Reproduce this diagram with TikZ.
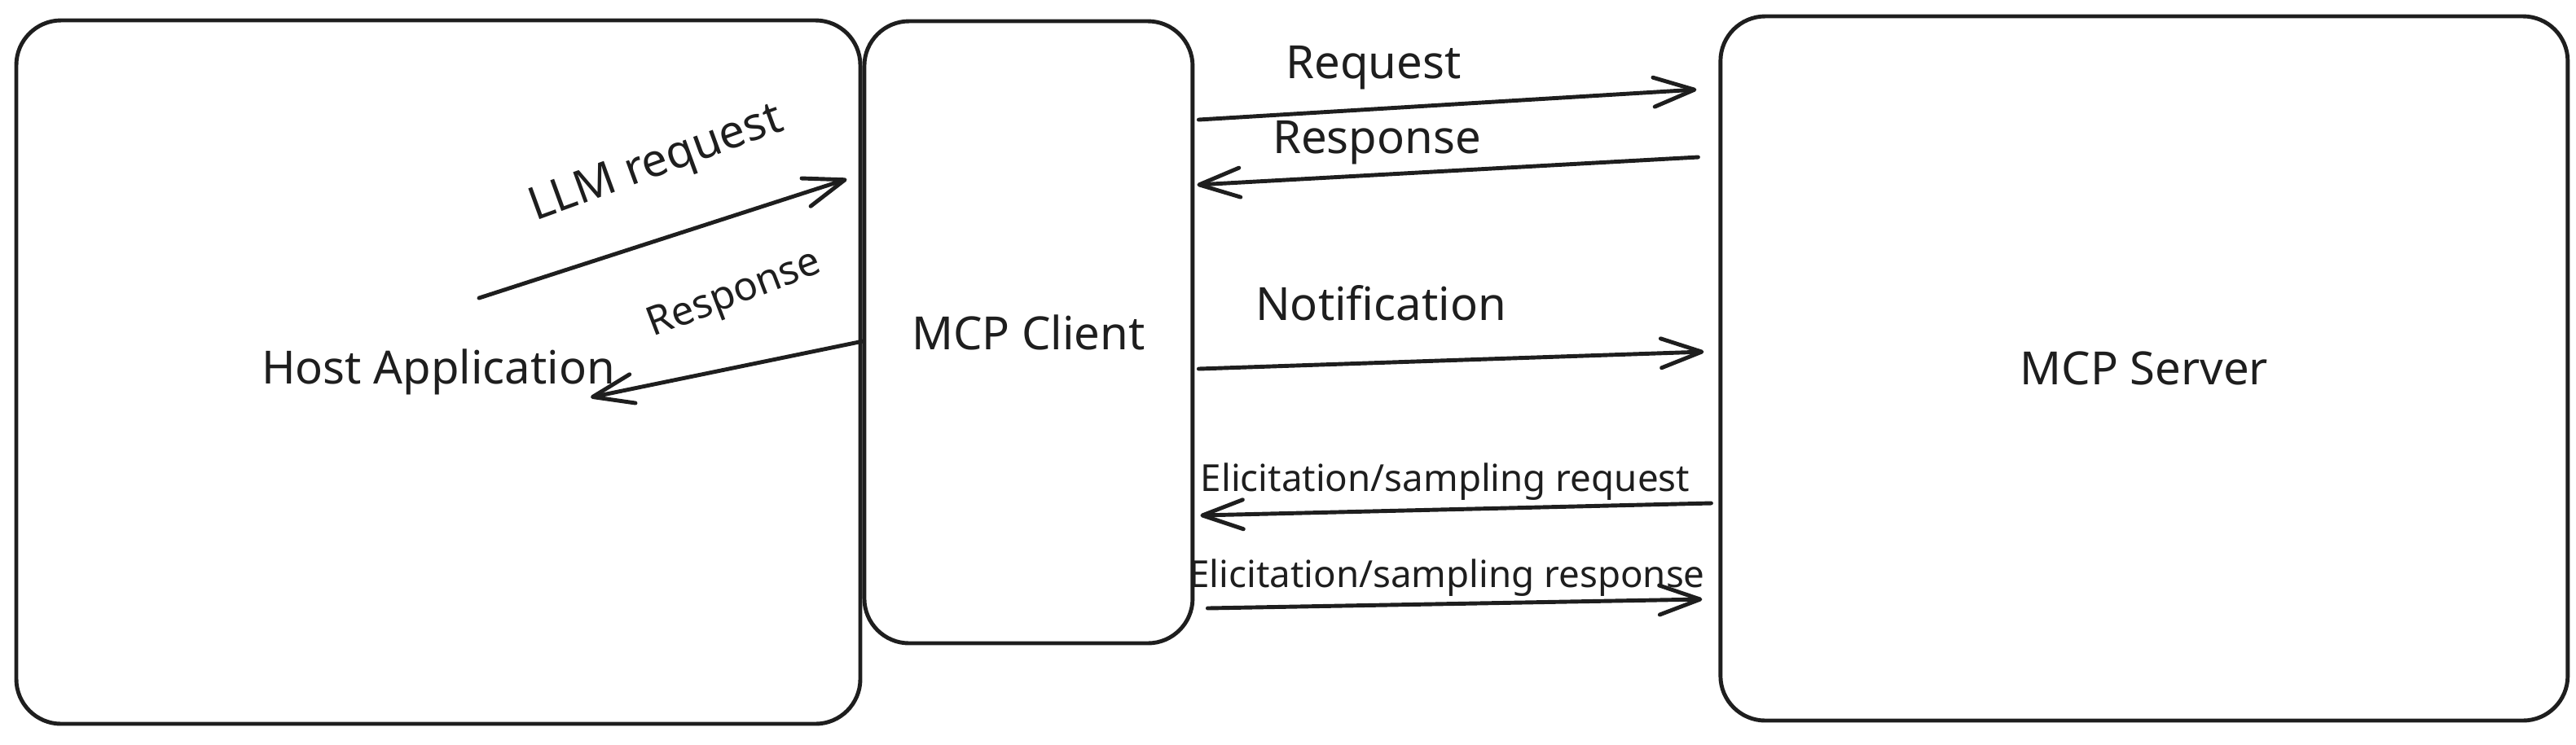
\documentclass[tikz,border=0pt]{standalone}
\usepackage{fontspec}
\setmainfont{Noto Sans}
\usepackage{xcolor}
\usepackage{tikz}
\usetikzlibrary{arrows.meta,calc,positioning}
\definecolor{ink}{HTML}{1E1E1E}

\tikzset{
  box/.style={draw=ink, line width=1.4pt, rounded corners=0.55cm, text=ink, font=\fontsize{16}{19}\selectfont},
  msg/.style={color=ink, line width=1.4pt, line cap=round, -{Straight Barb[length=0.5cm,width=0.36cm,round]}},
  lbl/.style={text=ink, inner sep=0pt, font=\fontsize{16}{19}\selectfont},
  smalllbl/.style={lbl, font=\fontsize{13}{16}\selectfont}
}

\begin{document}
\begin{tikzpicture}
           \useasboundingbox (0,0) rectangle (31.62,-9.14);
           % the three parties
           \node[box, minimum width=10.36cm, minimum height=8.64cm] (host) at (5.38,-4.57) {Host Application};
           \node[box, minimum width=4.03cm, minimum height=7.64cm, anchor=north west] (client) at ([yshift=-0.01cm]host.north east) {MCP Client};
           \node[box, minimum width=10.4cm, minimum height=8.65cm, anchor=north west] (server) at ([xshift=6.43cm, yshift=0.06cm]client.north east) {MCP Server};
           % free ends inside the host box
           \coordinate (llm_from) at (5.88,-3.66);
           \coordinate (resp_to) at (7.25,-4.88);
           % labels
           \node[lbl, rotate=20] (l_llm) at (8.06,-2.03) {LLM request};
           \node[lbl, rotate=21, font=\fontsize{14}{17}\selectfont] (l_hresp) at (9.02,-3.63) {Response};
           \node[lbl] (l_req) at (16.86,-0.83) {Request};
           \node[lbl] (l_resp) at (16.90,-1.75) {Response};
           \node[lbl] (l_note) at (16.95,-3.72) {Notification};
           \node[smalllbl] (l_ereq) at (17.74,-5.92) {Elicitation/sampling request};
           \node[smalllbl] (l_eresp) at (17.76,-7.10) {Elicitation/sampling response};
           \path[msg]
            (llm_from) edge ([xshift=-0.19cm, yshift=1.88cm]client.west)
            ([xshift=0.01cm, yshift=-0.11cm]client.west) edge (resp_to)
            ([xshift=0.05cm, yshift=2.61cm]client.east) edge ([xshift=-0.27cm, yshift=3.425cm]server.west)
            ([xshift=-0.25cm, yshift=2.595cm]server.west) edge ([xshift=0.03cm, yshift=1.81cm]client.east)
            ([xshift=0.05cm, yshift=-0.45cm]client.east) edge ([xshift=-0.18cm, yshift=0.205cm]server.west)
            ([xshift=-0.09cm, yshift=-1.655cm]server.west) edge ([xshift=0.07cm, yshift=-2.25cm]client.east)
            ([xshift=0.16cm, yshift=-3.39cm]client.east) edge ([xshift=-0.2cm, yshift=-2.835cm]server.west);
        \end{tikzpicture}
\end{document}
